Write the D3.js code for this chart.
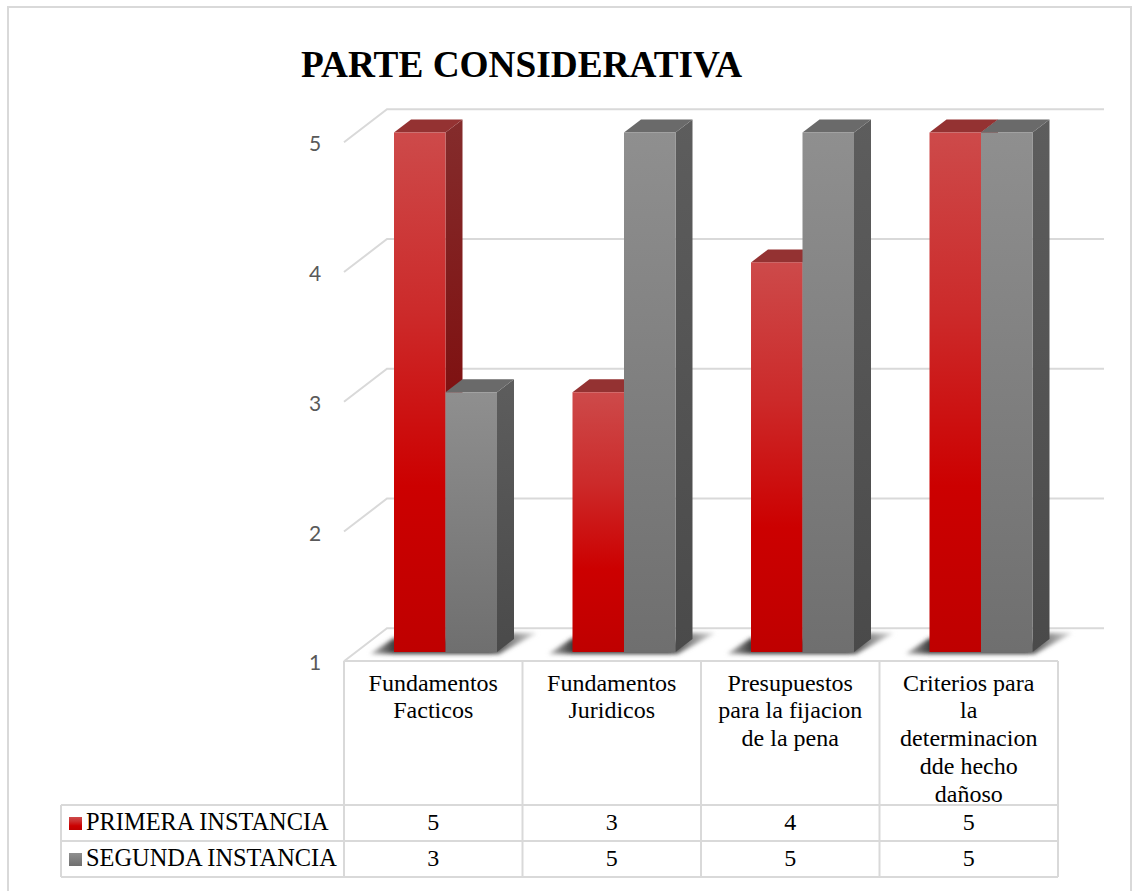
<!DOCTYPE html>
<html><head><meta charset="utf-8">
<style>html,body{margin:0;padding:0;background:#fff}svg{display:block}</style>
<script src="https://cdn.jsdelivr.net/npm/d3@7/dist/d3.min.js"></script></head>
<body><svg id="c" width="1138" height="891"></svg>
<script>
const titleText = "PARTE CONSIDERATIVA";
const categories = ["Fundamentos Facticos","Fundamentos Juridicos","Presupuestos para la fijacion de la pena","Criterios para la determinacion dde hecho dañoso"];
const categoryLines = [["Fundamentos","Facticos"],["Fundamentos","Juridicos"],["Presupuestos","para la fijacion","de la pena"],["Criterios para","la","determinacion","dde hecho","dañoso"]];
const seriesNames = ["PRIMERA INSTANCIA","SEGUNDA INSTANCIA"];
const primera = [5,3,4,5];
const segunda = [3,5,5,5];
const tickValues = [1,2,3,4,5];

const svg = d3.select("#c");
const defs = svg.append("defs");
function grad(id, stops){
  const g = defs.append("linearGradient").attr("id",id).attr("x1",0).attr("y1",0).attr("x2",0).attr("y2",1);
  stops.forEach(s=>g.append("stop").attr("offset",s[0]).attr("stop-color",s[1]));
}
grad("redF",[[0,"#cd4a4a"],[0.35,"#cc2a2a"],[0.68,"#cc0000"],[1,"#bf0000"]]);
grad("redS",[[0,"#842c2c"],[0.5,"#7f1212"],[1,"#770000"]]);
grad("grayF",[[0,"#8f8f8f"],[1,"#6f6f6f"]]);
grad("grayS",[[0,"#5d5d5d"],[1,"#4a4a4a"]]);
const shadowGrad = defs.append("linearGradient").attr("id","shadowG").attr("x1",0).attr("y1",0).attr("x2",1).attr("y2",0);
[[0,"#bbb"],[0.14,"#333"],[0.72,"#333"],[1,"#ddd"]].forEach(s=>shadowGrad.append("stop").attr("offset",s[0]).attr("stop-color",s[1]));
const blur = defs.append("filter").attr("id","blur").attr("x","-20%").attr("y","-50%").attr("width","140%").attr("height","200%");
blur.append("feGaussianBlur").attr("stdDeviation",2);

const series = [
 {name:seriesNames[0],values:primera,front:"url(#redF)",side:"url(#redS)",top:"#943232",key:0},
 {name:seriesNames[1],values:segunda,front:"url(#grayF)",side:"url(#grayS)",top:"#6a6a6a",key:1}
];
const line="#d9d9d9";

// outer frame
svg.append("rect").attr("x",8).attr("y",7).attr("width",1123).attr("height",900).attr("fill","none").attr("stroke",line).attr("stroke-width",2);

// scales
const x0 = d3.scaleBand().domain(categories).range([344,1058]);
const x1 = d3.scaleBand().domain([0,1]).range([50,153]);
const y = d3.scaleLinear().domain([1,5]).range([652,132.5]);
const wall = d3.scaleLinear().domain([1,5]).range([628.3,109.3]);
const depthX = 17, depthY = 13;
const wallDX = 43, wallDY = 33;

// gridlines
const grid = svg.append("g").attr("fill","none").attr("stroke",line).attr("stroke-width",2);
tickValues.forEach(v=>{
  const yb = wall(v);
  grid.append("polyline").attr("points",[[344,yb+wallDY],[344+wallDX,yb],[1104,yb]].map(p=>p.join(",")).join(" "));
});

// shadows
const shadow = svg.append("g").attr("filter","url(#blur)");
categories.forEach(c=>{
  const l = x0(c)+x1(0), r = x0(c)+x1(1)+x1.bandwidth();
  shadow.append("path").attr("fill","url(#shadowG)").attr("opacity",0.95)
    .attr("d",`M${l-24},654L${r+2},654L${r+40},633L${r+16},633L${r},642L${l},638Z`);
});

// bars
categories.forEach((c,i)=>{
  series.forEach(s=>{
    const l = x0(c)+x1(s.key), w = x1.bandwidth(), t = y(s.values[i]), b = y(1);
    const g = svg.append("g");
    g.append("path").attr("fill",s.side).attr("d",`M${l+w},${t}L${l+w+depthX},${t-depthY}L${l+w+depthX},${b-depthY}L${l+w},${b}Z`);
    g.append("path").attr("fill",s.top).attr("d",`M${l},${t}L${l+depthX},${t-depthY}L${l+w+depthX},${t-depthY}L${l+w},${t}Z`);
    g.append("rect").attr("x",l).attr("y",t).attr("width",w).attr("height",b-t).attr("fill",s.front);
  });
});

// y tick labels
svg.append("g").selectAll("text").data(tickValues).join("text")
  .attr("x",315).attr("y",v=>wall(v)+wallDY+9).attr("text-anchor","middle")
  .attr("font-family","'Lato'").attr("font-size",21).attr("fill","#595959").text(d=>d);

// title
svg.append("text").attr("x",301).attr("y",77).attr("font-family","'Liberation Serif'").attr("font-weight","bold").attr("font-size",37.3).attr("fill","#000").text(titleText);

// data table
const rowTop = 661, rowA = 805, rowB = 841, rowC = 877, tableL = 61;
const tbl = svg.append("g").attr("fill","none").attr("stroke",line).attr("stroke-width",2);
[rowTop].forEach(r=>tbl.append("line").attr("x1",344).attr("x2",1058).attr("y1",r).attr("y2",r));
[rowA,rowB,rowC].forEach(r=>tbl.append("line").attr("x1",tableL).attr("x2",1058).attr("y1",r).attr("y2",r));
tbl.append("line").attr("x1",tableL).attr("x2",tableL).attr("y1",rowA).attr("y2",rowC);
categories.concat([null]).forEach((c,i)=>{
  const xx = c? x0(c): x0.range()[1];
  tbl.append("line").attr("x1",xx).attr("x2",xx).attr("y1",rowTop).attr("y2",rowC);
});
const font = {family:"'Liberation Serif'",size:24,legend:24.4};
categories.forEach((c,i)=>{
  const cx = x0(c)+x0.bandwidth()/2;
  const t = svg.append("text").attr("text-anchor","middle").attr("font-family",font.family).attr("font-size",font.size).attr("fill","#000");
  categoryLines[i].forEach((ln,j)=>t.append("tspan").attr("x",cx).attr("y",690.5+j*27.8).text(ln));
  [[primera,830],[segunda,866]].forEach(([vals,yy])=>{
    svg.append("text").attr("x",cx).attr("y",yy).attr("text-anchor","middle").attr("font-family",font.family).attr("font-size",font.size).attr("fill","#000").text(vals[i]);
  });
});
// legend keys
[[seriesNames[0],"url(#redF)",830,817],[seriesNames[1],"url(#grayF)",866,853]].forEach(([n,f,yy,ky])=>{
  svg.append("rect").attr("x",69).attr("y",ky).attr("width",13).attr("height",13).attr("fill",f);
  svg.append("text").attr("x",86).attr("y",yy).attr("font-family",font.family).attr("font-size",font.legend).attr("fill","#000").text(n);
});
</script></body></html>
